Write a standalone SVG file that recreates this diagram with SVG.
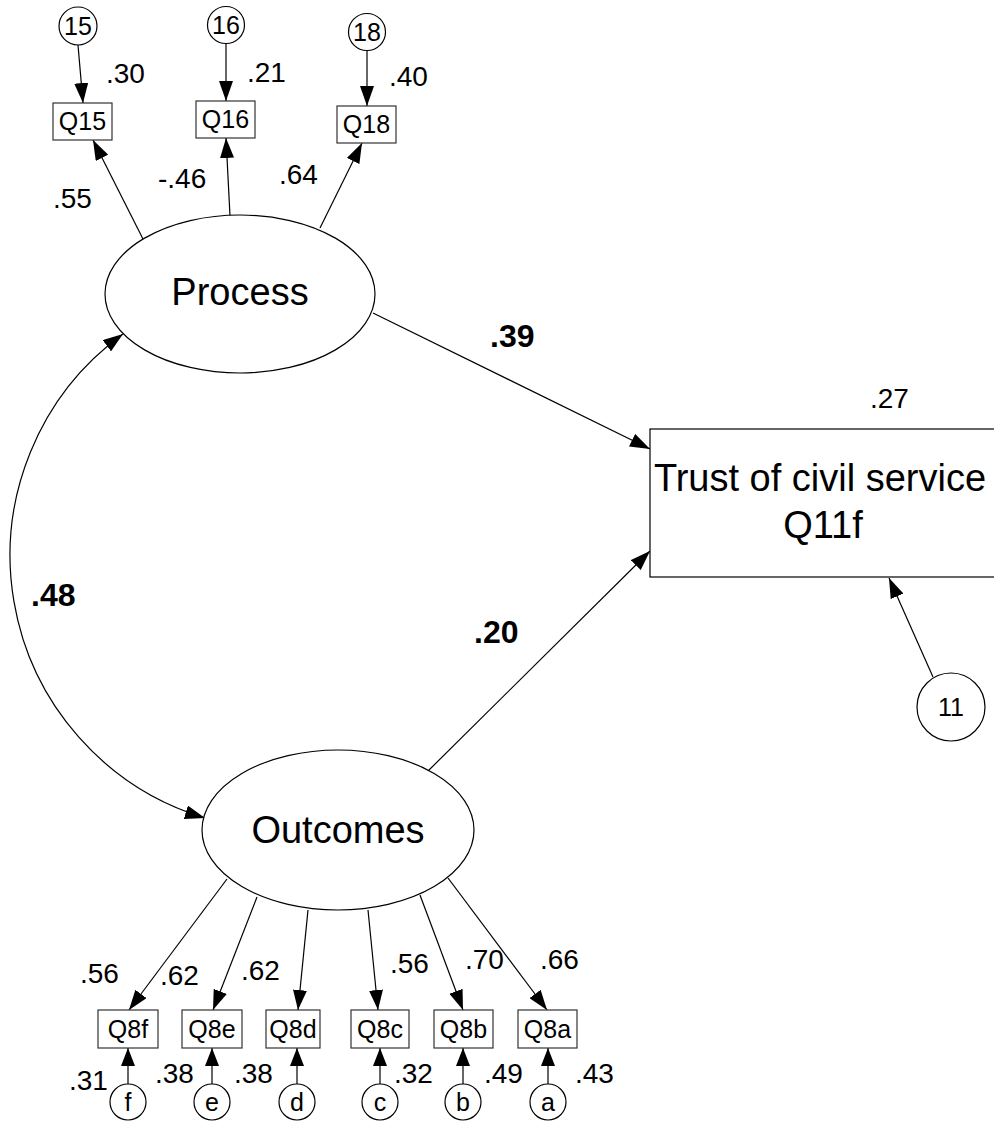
<svg xmlns="http://www.w3.org/2000/svg" width="994" height="1122" viewBox="0 0 994 1122">
<style>
  .shape { fill: #fff; stroke: #000; stroke-width: 1.2; }
  .box { fill: #fff; stroke: #333; stroke-width: 1.2; }
  .conn { fill: none; stroke: #000; stroke-width: 1.2; }
  text { font-family: "Liberation Sans", Arial, sans-serif; fill: #000; }
  .big { font-size: 38px; text-anchor: middle; }
  .bx { font-size: 25px; text-anchor: middle; }
  .ci { font-size: 25px; text-anchor: middle; }
  .num { font-size: 28px; }
  .bold { font-size: 32px; font-weight: bold; }
</style>
<defs>
  <marker id="ah" viewBox="0 0 20 14" refX="20" refY="7" markerWidth="20" markerHeight="14" markerUnits="userSpaceOnUse" orient="auto-start-reverse">
    <path d="M0,0 L20,7 L0,14 z" fill="#000"/>
  </marker>
  <marker id="ahs" viewBox="0 0 18 14" refX="18" refY="7" markerWidth="18" markerHeight="14" markerUnits="userSpaceOnUse" orient="auto">
    <path d="M0,0 L18,7 L0,14 z" fill="#000"/>
  </marker>
</defs>

<g id="connectors">
  <line class="conn" x1="78" y1="45" x2="83" y2="103" marker-end="url(#ah)"/>
  <line class="conn" x1="226" y1="43" x2="226" y2="101" marker-end="url(#ah)"/>
  <line class="conn" x1="367" y1="51" x2="367" y2="106" marker-end="url(#ah)"/>
  <line class="conn" x1="143" y1="239" x2="93" y2="140" marker-end="url(#ah)"/>
  <line class="conn" x1="230" y1="216" x2="226" y2="138" marker-end="url(#ah)"/>
  <line class="conn" x1="320" y1="228" x2="362" y2="143" marker-end="url(#ah)"/>
  <line class="conn" x1="373" y1="313" x2="650" y2="449" marker-end="url(#ah)"/>
  <line class="conn" x1="427" y1="772" x2="650" y2="551" marker-end="url(#ah)"/>
  <line class="conn" x1="933" y1="677" x2="889" y2="578" marker-end="url(#ah)"/>
  <path class="conn" d="M123,334 A274,274 0 0 0 205,818" marker-start="url(#ah)" marker-end="url(#ah)"/>
  <line class="conn" x1="227" y1="879" x2="129" y2="1010" marker-end="url(#ah)"/>
  <line class="conn" x1="257" y1="897" x2="213" y2="1010" marker-end="url(#ah)"/>
  <line class="conn" x1="308" y1="910" x2="298" y2="1010" marker-end="url(#ah)"/>
  <line class="conn" x1="368" y1="910" x2="378" y2="1010" marker-end="url(#ah)"/>
  <line class="conn" x1="420" y1="895" x2="463" y2="1010" marker-end="url(#ah)"/>
  <line class="conn" x1="448" y1="878" x2="547" y2="1010" marker-end="url(#ah)"/>
  <line class="conn" x1="128" y1="1084" x2="128" y2="1048" marker-end="url(#ahs)"/>
  <line class="conn" x1="212" y1="1084" x2="212" y2="1048" marker-end="url(#ahs)"/>
  <line class="conn" x1="297" y1="1084" x2="297" y2="1048" marker-end="url(#ahs)"/>
  <line class="conn" x1="380" y1="1084" x2="380" y2="1048" marker-end="url(#ahs)"/>
  <line class="conn" x1="463" y1="1084" x2="463" y2="1048" marker-end="url(#ahs)"/>
  <line class="conn" x1="548" y1="1084" x2="548" y2="1048" marker-end="url(#ahs)"/>
</g>

<g id="e15"><circle class="shape" cx="78" cy="26" r="19"/><text class="ci" x="78" y="35">15</text></g>
<g id="e16"><circle class="shape" cx="226" cy="25" r="18.5"/><text class="ci" x="226" y="34">16</text></g>
<g id="e18"><circle class="shape" cx="367" cy="32" r="18.5"/><text class="ci" x="367" y="41">18</text></g>

<g id="Q15"><rect class="box" x="53" y="103" width="59" height="37"/><text class="bx" x="82.5" y="130">Q15</text></g>
<g id="Q16"><rect class="box" x="196" y="101" width="59" height="37"/><text class="bx" x="225.5" y="128">Q16</text></g>
<g id="Q18"><rect class="box" x="337" y="106" width="59" height="37"/><text class="bx" x="366.5" y="133">Q18</text></g>

<g id="Process"><ellipse class="shape" cx="240" cy="294" rx="135" ry="79"/><text class="big" x="240" y="305">Process</text></g>
<g id="Outcomes"><ellipse class="shape" cx="338" cy="830" rx="136" ry="80"/><text class="big" x="338" y="843">Outcomes</text></g>

<g id="Trust"><rect class="shape" x="650" y="429" width="360" height="148"/>
  <text class="big" x="820" y="491">Trust of civil service</text>
  <text class="big" x="823" y="538">Q11f</text>
</g>
<g id="e11"><circle class="shape" cx="951" cy="707" r="34"/><text class="ci" x="951" y="716">11</text></g>

<g id="Q8f"><rect class="box" x="98" y="1010" width="60" height="38"/><text class="bx" x="128" y="1038">Q8f</text></g>
<g id="Q8e"><rect class="box" x="182" y="1010" width="60" height="38"/><text class="bx" x="212" y="1038">Q8e</text></g>
<g id="Q8d"><rect class="box" x="266" y="1010" width="54" height="38"/><text class="bx" x="293" y="1038">Q8d</text></g>
<g id="Q8c"><rect class="box" x="351" y="1010" width="58" height="38"/><text class="bx" x="380" y="1038">Q8c</text></g>
<g id="Q8b"><rect class="box" x="434" y="1010" width="59" height="38"/><text class="bx" x="463.5" y="1038">Q8b</text></g>
<g id="Q8a"><rect class="box" x="518" y="1010" width="59" height="38"/><text class="bx" x="547.5" y="1038">Q8a</text></g>

<g id="ef"><circle class="shape" cx="128" cy="1102" r="18"/><text class="ci" x="128" y="1111">f</text></g>
<g id="ee"><circle class="shape" cx="212" cy="1102" r="18"/><text class="ci" x="212" y="1111">e</text></g>
<g id="ed"><circle class="shape" cx="297" cy="1102" r="18"/><text class="ci" x="297" y="1111">d</text></g>
<g id="ec"><circle class="shape" cx="380" cy="1102" r="18"/><text class="ci" x="380" y="1111">c</text></g>
<g id="eb"><circle class="shape" cx="463" cy="1102" r="18"/><text class="ci" x="463" y="1111">b</text></g>
<g id="ea"><circle class="shape" cx="548" cy="1102" r="18"/><text class="ci" x="548" y="1111">a</text></g>

<g id="labels">
  <text class="num" x="106" y="83">.30</text>
  <text class="num" x="247" y="82">.21</text>
  <text class="num" x="389" y="86">.40</text>
  <text class="num" x="53" y="208">.55</text>
  <text class="num" x="158" y="188">-.46</text>
  <text class="num" x="279" y="184">.64</text>
  <text class="bold" x="490" y="347">.39</text>
  <text class="bold" x="31" y="606">.48</text>
  <text class="bold" x="474" y="643">.20</text>
  <text class="num" x="870" y="408">.27</text>
  <text class="num" x="80" y="983">.56</text>
  <text class="num" x="160" y="985">.62</text>
  <text class="num" x="241" y="980">.62</text>
  <text class="num" x="390" y="973">.56</text>
  <text class="num" x="465" y="969">.70</text>
  <text class="num" x="540" y="969">.66</text>
  <text class="num" x="69" y="1090">.31</text>
  <text class="num" x="155" y="1083">.38</text>
  <text class="num" x="234" y="1083">.38</text>
  <text class="num" x="394" y="1083">.32</text>
  <text class="num" x="484" y="1083">.49</text>
  <text class="num" x="575" y="1083">.43</text>
</g>
</svg>
